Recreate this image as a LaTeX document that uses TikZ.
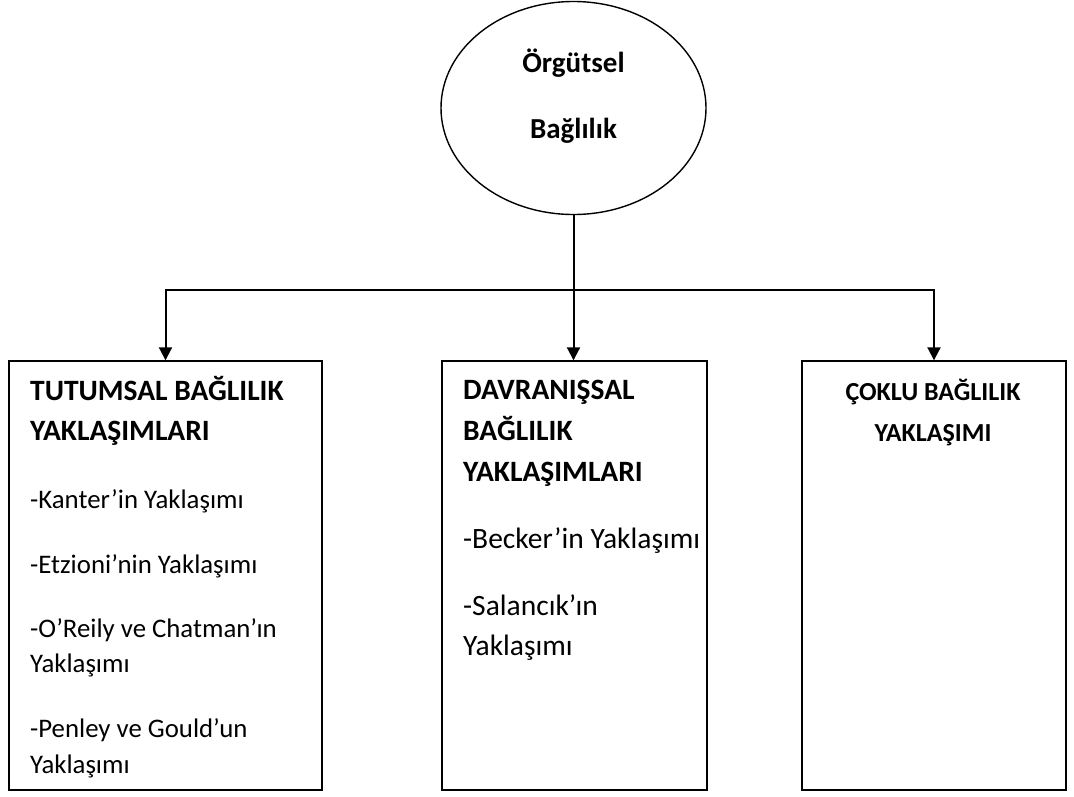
\documentclass[tikz,border=0pt]{standalone}
\usepackage{fontspec}
\setmainfont{Carlito}
\usetikzlibrary{shapes.geometric,arrows.meta}
\begin{document}
\begin{tikzpicture}[x=1pt,y=-1pt,
  frame/.style={draw, line width=1.4pt, rectangle, inner sep=0pt},
  arr/.style={line width=2pt, -{Triangle[length=13pt,width=13pt]}},
  txt/.style={inner sep=0pt, anchor=base west},
  lefttxt/.style={txt, font=\fontsize{26.8}{30}\selectfont},
  midtxt/.style={txt, font=\fontsize{29.5}{33}\selectfont},
  head/.style={txt, font=\fontsize{29.5}{33}\selectfont\bfseries},
  roottxt/.style={inner sep=0pt, anchor=base, font=\fontsize{29}{33}\selectfont\bfseries},
  small/.style={inner sep=0pt, anchor=base, font=\fontsize{26}{30}\selectfont\bfseries}]
\useasboundingbox (0,0) rectangle (1074,796);

% central concept
\node[draw, ellipse, line width=1.4pt, minimum width=265pt, minimum height=213pt, inner sep=0pt] (root) at (573.5,108) {};
\node[roottxt] (r1) at (573.5,72) {Örgütsel};
\node[roottxt] (r2) at (573.5,138) {Bağlılık};

% three approach boxes
\node[frame, minimum width=313pt, minimum height=429pt] (left) at (165.5,575.5) {};
\node[frame, minimum width=265pt, minimum height=429pt] (mid) at (574.5,575.5) {};
\node[frame, minimum width=264pt, minimum height=429pt] (right) at (934,575.5) {};

% connectors
\coordinate (hub) at (573.5,290);
\draw[arr] (root.south) -- (root.south |- mid.north);
\draw[arr] (hub) -| (left.north);
\draw[arr] (hub) -| (right.north);

% left box text
\node[head] (l1) at (30,400) {TUTUMSAL BAĞLILIK};
\node[head] (l2) at (30,440) {YAKLAŞIMLARI};
\node[lefttxt] (l3) at (30,508) {-Kanter’in Yaklaşımı};
\node[lefttxt] (l4) at (30,573) {-Etzioni’nin Yaklaşımı};
\node[lefttxt] (l5) at (30,637) {-O’Reily ve Chatman’ın};
\node[lefttxt] (l6) at (30,672) {Yaklaşımı};
\node[lefttxt] (l7) at (30,737) {-Penley ve Gould’un};
\node[lefttxt] (l8) at (30,773) {Yaklaşımı};

% middle box text
\node[head] (m1) at (463,399) {DAVRANIŞSAL};
\node[head] (m2) at (463,440) {BAĞLILIK};
\node[head] (m3) at (463,481) {YAKLAŞIMLARI};
\node[midtxt] (m4) at (463,548) {-Becker’in Yaklaşımı};
\node[midtxt] (m5) at (463,615) {-Salancık’ın};
\node[midtxt] (m6) at (463,655) {Yaklaşımı};

% right box text
\node[small] (c1) at (933,400) {ÇOKLU BAĞLILIK};
\node[small] (c2) at (933,441) {YAKLAŞIMI};
\end{tikzpicture}
\end{document}
